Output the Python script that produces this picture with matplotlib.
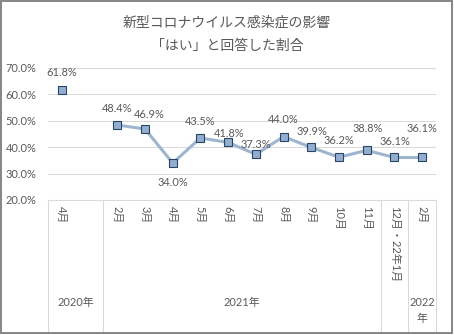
import numpy as np
import matplotlib
matplotlib.use("Agg")
import matplotlib.pyplot as plt
from matplotlib.transforms import blended_transform_factory
from matplotlib.patches import Rectangle

plt.rcParams['font.family'] = ['Lato', 'Noto Sans CJK JP', 'DejaVu Sans']

# ---- data ----
title_line1 = "新型コロナウイルス感染症の影響"
title_line2 = "「はい」と回答した割合"
months = ['4月', '', '2月', '3月', '4月', '5月', '6月', '7月', '8月', '9月',
          '10月', '11月', '12月・22年1月', '2月']
values = [0.618, np.nan, 0.484, 0.469, 0.340, 0.435, 0.418, 0.373, 0.440,
          0.399, 0.362, 0.388, 0.361, 0.361]
group_labels = ['2020年', '2021年', '', '2022\n年']
group_sizes = [2, 10, 1, 1]
y_ticks = [0.2, 0.3, 0.4, 0.5, 0.6, 0.7]

# label offsets in pixels (dx, dy) - layout only
label_offsets = [(0, 17), None, (0, 17), (4, 14), (0, -19), (0, 16), (1, 9),
                 (0, 10), (0, 17), (1, 16), (0, 17), (1, 22), (1, 16), (0, 29)]

W, H = 454, 335
fig = plt.figure(figsize=(W / 100, H / 100), dpi=100)
fig.patch.set_facecolor('white')

left, right, top, bottom = 48, 436, 68, 200
ax = fig.add_axes([left / W, 1 - bottom / H, (right - left) / W, (bottom - top) / H])

txt_color = '#595959'
grid_color = '#D9D9D9'
fs = 7.9

x = np.arange(len(months))
ax.plot(x, values, color='#9DB5CF', linewidth=2.2, zorder=3,
        marker='s', markersize=5.2, markerfacecolor='#93AECE',
        markeredgecolor='#2A4468', markeredgewidth=0.8, solid_capstyle='round')

px2pt = 72 / 100
for i, v in enumerate(values):
    if np.isnan(v):
        continue
    dx, dy = label_offsets[i]
    ax.annotate(f"{v * 100:.1f}%", (x[i], v), xytext=(dx * px2pt, dy * px2pt),
                textcoords='offset points', ha='center', va='center',
                fontsize=fs, color=txt_color, zorder=4)

ax.set_xlim(-0.5, len(months) - 0.5)
ax.set_ylim(0.2, 0.7)
ax.set_yticks(y_ticks)
ax.set_yticklabels([f"{t * 100:.1f}%" for t in y_ticks], fontsize=fs, color=txt_color)
ax.tick_params(axis='y', length=0, pad=8.3)
ax.set_xticks([])
ax.yaxis.grid(True, color=grid_color, linewidth=0.75)
ax.set_axisbelow(True)
for s in ['left', 'right', 'top']:
    ax.spines[s].set_visible(False)
ax.spines['bottom'].set_color(grid_color)
ax.spines['bottom'].set_linewidth(0.75)

# category labels (rotated)
trans = blended_transform_factory(ax.transData, fig.transFigure)
for i, m in enumerate(months):
    if m:
        ax.text(x[i], 1 - 206 / H, m, rotation=270, ha='center', va='top',
                fontsize=fs, color=txt_color, transform=trans)

# group separators and group labels
bounds = np.concatenate([[0], np.cumsum(group_sizes)]) - 0.5
for b in bounds:
    ax.plot([b, b], [1 - bottom / H, 1 - 332 / H], color=grid_color,
            linewidth=0.75, transform=trans, clip_on=False)
for g, lab in enumerate(group_labels):
    if not lab:
        continue
    cx = (bounds[g] + bounds[g + 1]) / 2
    ax.text(cx, 1 - 297 / H, lab, ha='center', va='top', fontsize=fs,
            color=txt_color, transform=trans, linespacing=1.55)

# title
fig.text(227 / W, 1 - 22 / H, title_line1, ha='center', va='center',
         fontsize=10, color=txt_color)
fig.text(227 / W, 1 - 45 / H, title_line2, ha='center', va='center',
         fontsize=10, color=txt_color)

# outer frame
fig.patches.append(Rectangle((1 / W, 1 - 333 / H), 451 / W, 332 / H,
                             transform=fig.transFigure, fill=False,
                             edgecolor='#858585', linewidth=1.4))

fig.savefig('out.png', dpi=100)
